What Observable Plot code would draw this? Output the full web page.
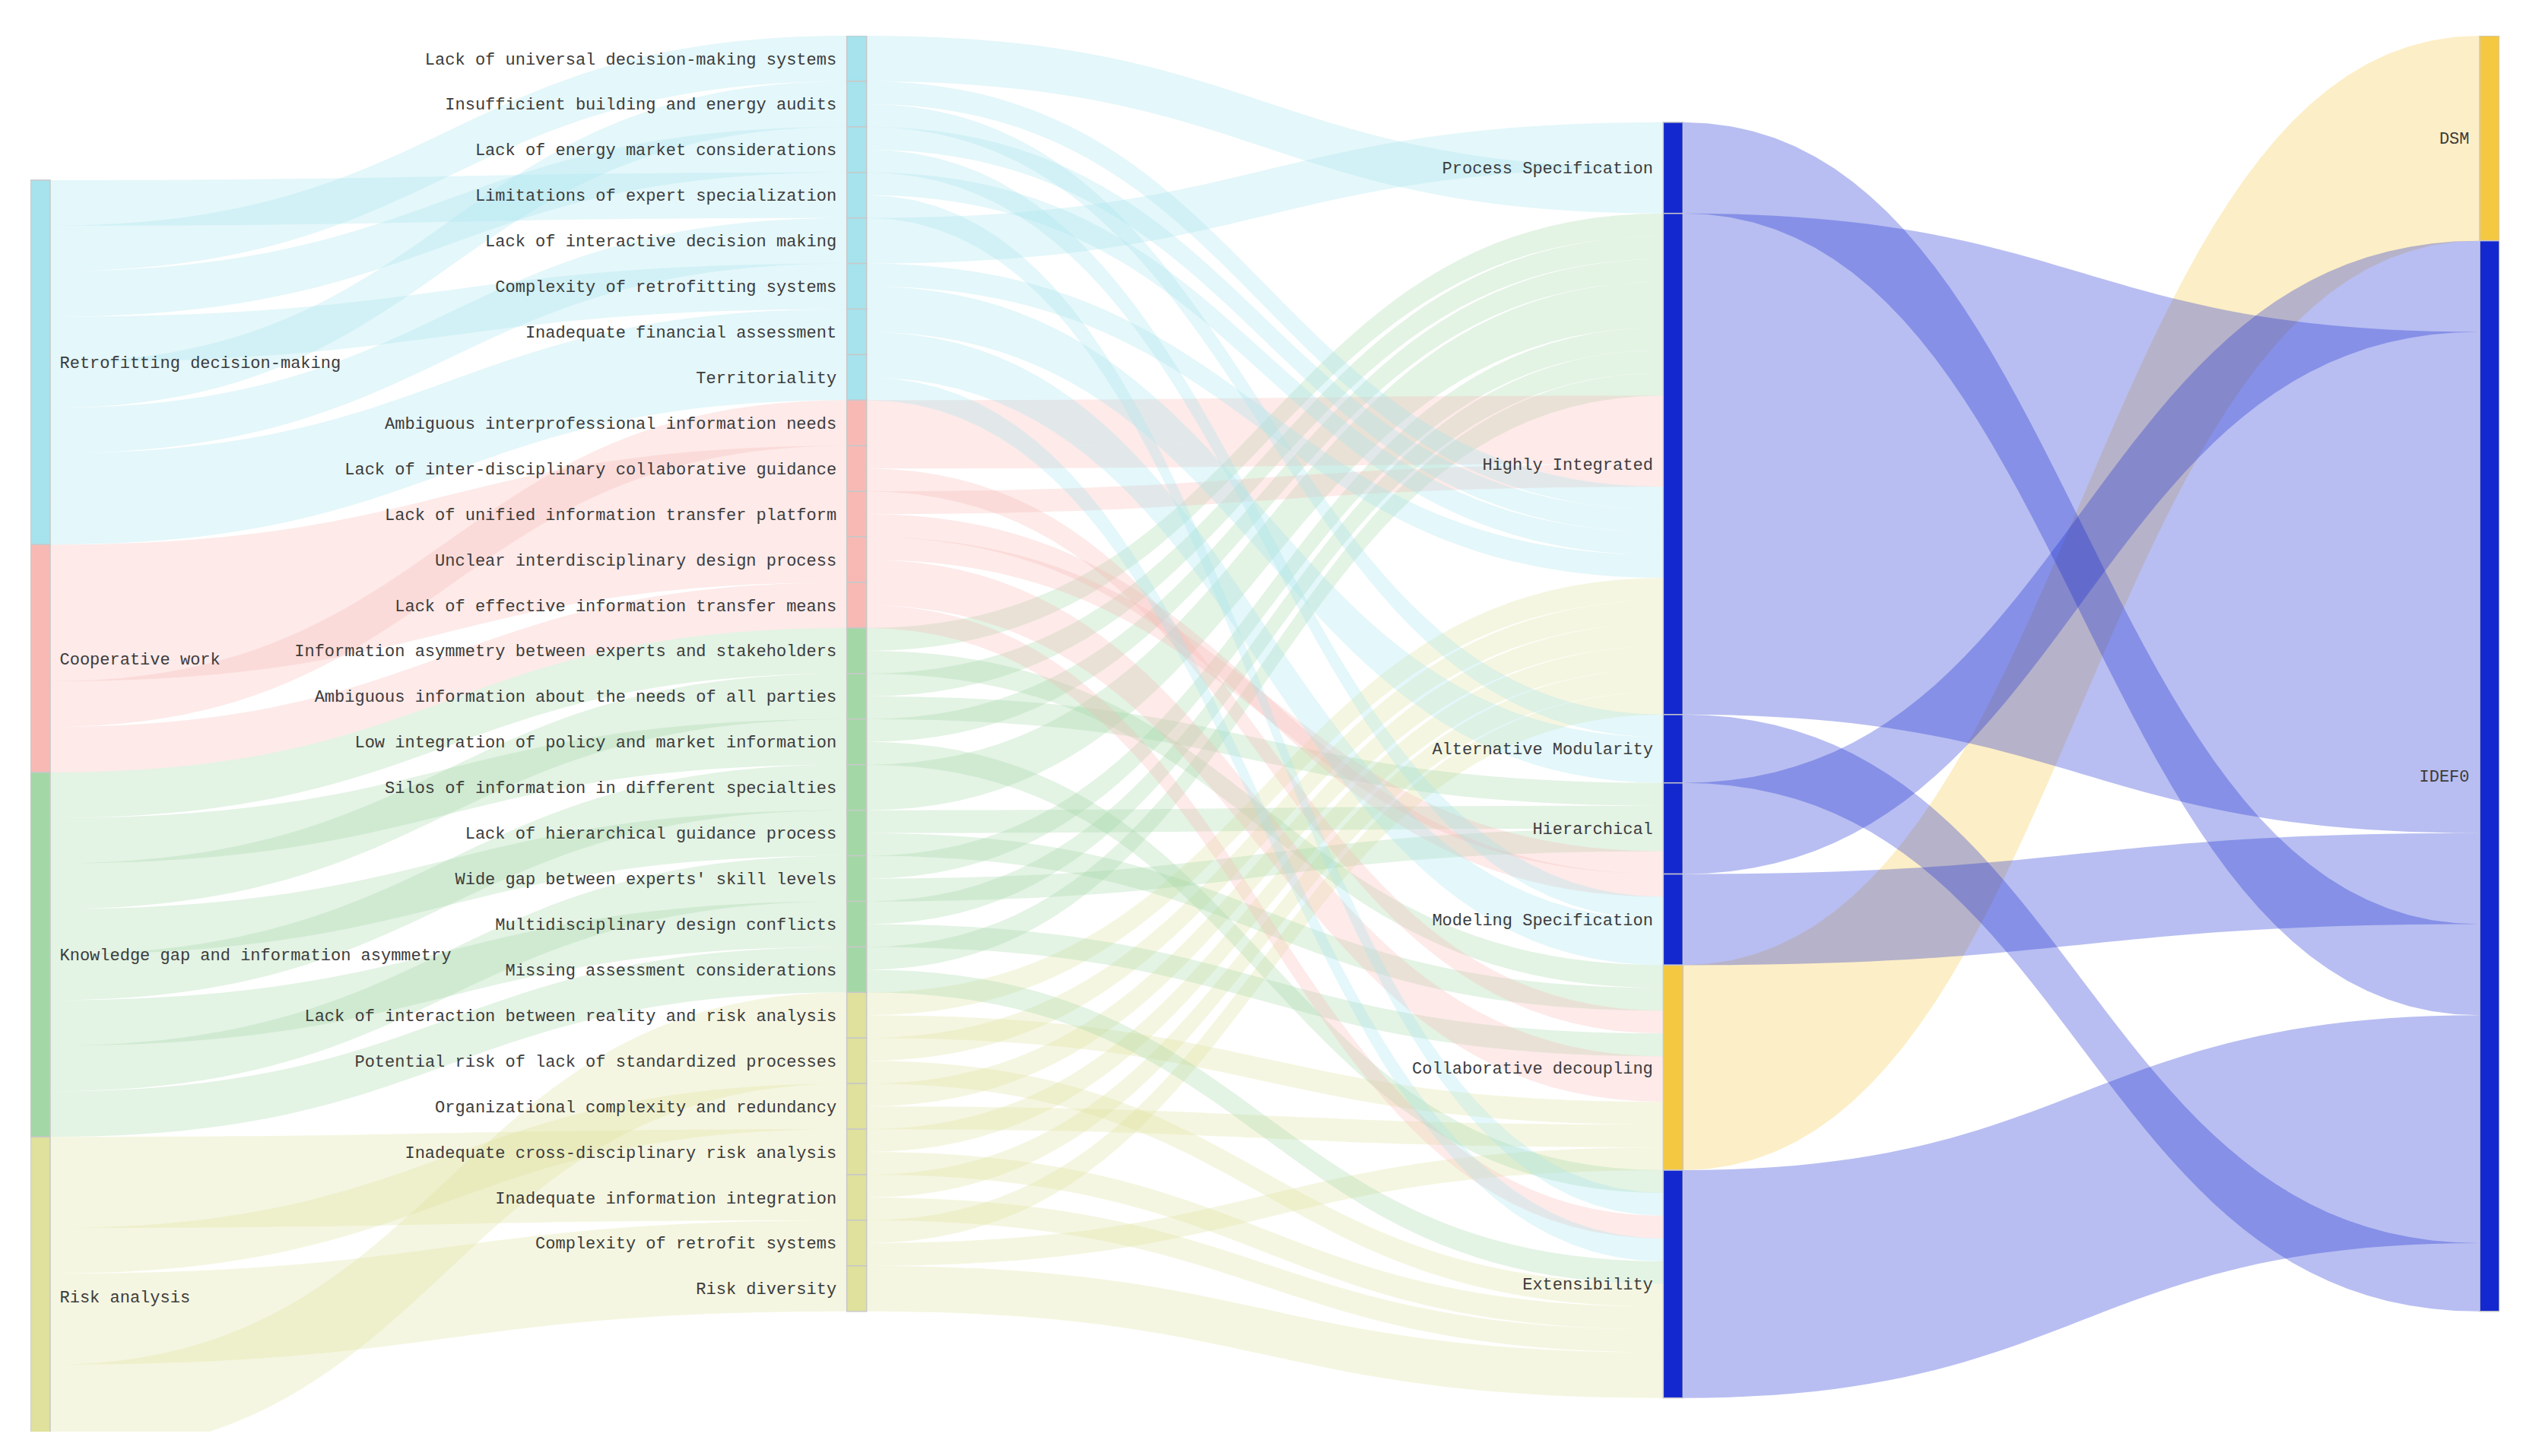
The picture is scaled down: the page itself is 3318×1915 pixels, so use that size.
<!DOCTYPE html>
<html><head><meta charset="utf-8">
<script src="https://cdn.jsdelivr.net/npm/d3@7"></script>
<script src="https://cdn.jsdelivr.net/npm/@observablehq/plot@0.6"></script>
<style>
body{margin:0;background:#fff}
svg{display:block}
</style>
</head><body><div id="chart"></div>
<script>
// ---------- data ----------
const categories = ["Retrofitting decision-making","Cooperative work","Knowledge gap and information asymmetry","Risk analysis"];
const categoryColors = ["#a6e3ed","#f8b9b5","#a3d8a6","#dfe19c"];

const issues = [
  "Lack of universal decision-making systems","Insufficient building and energy audits","Lack of energy market considerations",
  "Limitations of expert specialization","Lack of interactive decision making","Complexity of retrofitting systems",
  "Inadequate financial assessment","Territoriality",
  "Ambiguous interprofessional information needs","Lack of inter-disciplinary collaborative guidance",
  "Lack of unified information transfer platform","Unclear interdisciplinary design process","Lack of effective information transfer means",
  "Information asymmetry between experts and stakeholders","Ambiguous information about the needs of all parties",
  "Low integration of policy and market information","Silos of information in different specialties",
  "Lack of hierarchical guidance process","Wide gap between experts' skill levels","Multidisciplinary design conflicts",
  "Missing assessment considerations",
  "Lack of interaction between reality and risk analysis","Potential risk of lack of standardized processes",
  "Organizational complexity and redundancy","Inadequate cross-disciplinary risk analysis","Inadequate information integration",
  "Complexity of retrofit systems","Risk diversity"
];
const issueCategory = [0,0,0,0,0,0,0,0, 1,1,1,1,1, 2,2,2,2,2,2,2,2, 3,3,3,3,3,3,3];

const modularity = ["Process Specification","Highly Integrated","Alternative Modularity","Hierarchical","Modeling Specification","Collaborative decoupling","Extensibility"];
const modularityColors = ["#1428d0","#1428d0","#1428d0","#1428d0","#1428d0","#f5c842","#1428d0"];

const methods = ["DSM","IDEF0"];
const methodColors = ["#f5c842","#1428d0"];

// category -> issue links, in the order they leave each category node [category, issue index, value]
const categoryLinks = [
  [0,3,1],[0,0,1],[0,2,1],[0,5,1],[0,1,1],[0,4,1],[0,6,1],[0,7,1],
  [1,9,1],[1,10,1],[1,11,1],[1,8,1],[1,12,1],
  [2,13,1],[2,15,1],[2,14,1],[2,17,1],[2,16,1],[2,19,1],[2,18,1],[2,20,1],
  [3,24,1],[3,25,1],[3,23,1],[3,26,1],[3,27,1],[3,21,1],[3,22,1]
];

// issue -> modularity links, in the order they enter each modularity node [issue index, modularity index, value]
const issueLinks = [
  [4,0,1],[0,0,1],
  [13,1,0.5],[14,1,0.5],[15,1,0.5],[16,1,1],[18,1,0.5],[19,1,0.5],[20,1,0.5],
  [8,1,1],[9,1,0.5],[10,1,0.5],
  [1,1,0.5],[2,1,0.5],[3,1,0.5],[5,1,0.5],
  [21,1,0.5],[22,1,0.5],[23,1,0.5],[24,1,0.5],[25,1,0.5],[26,1,0.5],
  [1,2,0.5],[5,2,0.5],[6,2,0.5],
  [14,3,0.5],[17,3,0.5],[18,3,0.5],[11,3,0.5],
  [10,4,0.5],[2,4,0.5],[6,4,0.5],[7,4,0.5],
  [13,5,0.5],[17,5,0.5],[9,5,0.5],[19,5,0.5],[11,5,0.5],[12,5,0.5],[21,5,0.5],[23,5,0.5],[26,5,0.5],
  [15,6,0.5],[3,6,0.5],[12,6,0.5],[7,6,0.5],[20,6,0.5],[22,6,0.5],[24,6,0.5],[25,6,0.5],[27,6,1]
];

// modularity -> method links, in the order they enter each method node [modularity index, method index, value]
const methodLinks = [
  [5,0,4.5],
  [3,1,2],[1,1,11],[4,1,2],[0,1,2],[6,1,5],[2,1,1.5]
];

// vertical start of each column (in value units from the top)
const columnStart = [3.17, 0, 1.9, 0];

// ---------- sankey layout (value units) ----------
const nodeW = 26 / 1073.7;
const cols = [
  categories.map((n,i)=>({name:n, color:categoryColors[i]})),
  issues.map((n,i)=>({name:n, color:categoryColors[issueCategory[i]]})),
  modularity.map((n,i)=>({name:n, color:modularityColors[i]})),
  methods.map((n,i)=>({name:n, color:methodColors[i]}))
];
cols.forEach((c,ci)=>c.forEach(n=>{n.col=ci;n.inSum=0;n.outSum=0;}));
const links = [
  ...categoryLinks.map(([s,t,v])=>({s:cols[0][s], t:cols[1][t], v})),
  ...issueLinks.map(([s,t,v])=>({s:cols[1][s], t:cols[2][t], v})),
  ...methodLinks.map(([s,t,v])=>({s:cols[2][s], t:cols[3][t], v}))
];
links.forEach(l=>{l.s.outSum+=l.v; l.t.inSum+=l.v;});
cols.forEach((c,ci)=>{
  let y = columnStart[ci];
  c.forEach(n=>{n.value=Math.max(n.inSum,n.outSum); n.y0=y; n.y1=y+n.value; y=n.y1; n.oy=n.y0; n.iy=n.y0;});
});
const nodes = cols.flat();
const N = 48;
const bandRows = [];
links.forEach((l,k)=>{
  const sy0=l.s.oy, sy1=sy0+l.v; l.s.oy=sy1;
  const ty0=l.t.iy, ty1=ty0+l.v; l.t.iy=ty1;
  const xs=l.s.col+nodeW, xt=l.t.col, cx=(xs+xt)/2;
  for(let j=0;j<=N;j++){
    const t=j/N, u=1-t;
    const x=u*u*u*xs+3*u*u*t*cx+3*u*t*t*cx+t*t*t*xt;
    const h=u*u*u+3*u*u*t;
    bandRows.push({id:k, x, top:h*sy0+(1-h)*ty0, bot:h*sy1+(1-h)*ty1, color:l.s.color});
  }
});

// ---------- plot ----------
const chart = Plot.plot({
  width: 3318, height: 1915,
  marginLeft: 40, marginRight: 31, marginTop: 47, marginBottom: 32,
  x: {domain:[0, 3+nodeW], axis:null},
  y: {domain:[0, 30.64], reverse:true, axis:null},
  color: {type:"identity"},
  style: {fontFamily:"'Liberation Mono', 'DejaVu Sans Mono', monospace", background:"#fff"},
  marks: [
    Plot.area(bandRows, {x1:"x", y1:"top", y2:"bot", z:"id", fill:"color", fillOpacity:0.3, curve:"linear", clip:true}),
    Plot.rect(nodes, {x1:d=>d.col, x2:d=>d.col+nodeW, y1:"y0", y2:"y1", fill:"color", stroke:"#c8c8c8", strokeWidth:1.5, clip:true}),
    Plot.text(nodes.filter(d=>d.col===0), {x:d=>d.col+nodeW, y:d=>(d.y0+d.y1)/2, text:"name", textAnchor:"start", dx:12, fontSize:22, fill:"#3c3c3c"}),
    Plot.text(nodes.filter(d=>d.col>0), {x:d=>d.col, y:d=>(d.y0+d.y1)/2, text:"name", textAnchor:"end", dx:-14, fontSize:22, fill:"#3c3c3c"})
  ]
});
document.getElementById("chart").appendChild(chart);
</script>
</body></html>
